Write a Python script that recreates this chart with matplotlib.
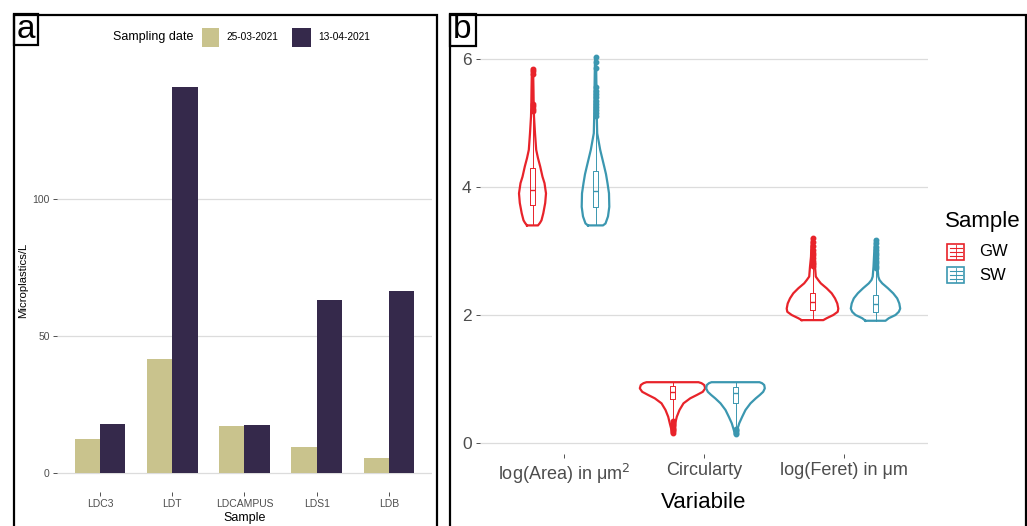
import matplotlib
matplotlib.use("Agg")
import matplotlib.pyplot as plt
from matplotlib.patches import Rectangle
from matplotlib.lines import Line2D
import numpy as np

plt.rcParams['font.family'] = ['Liberation Sans', 'DejaVu Sans']

# ---------------- Panel a data ----------------
samples = ["LDC3", "LDT", "LDCAMPUS", "LDS1", "LDB"]
dates = ["25-03-2021", "13-04-2021"]
mp_0325 = [12.2, 41.6, 17.2, 9.5, 5.3]
mp_0413 = [17.7, 141.0, 17.4, 63.1, 66.5]
a_yticks = [0, 50, 100]

# ---------------- Panel b data ----------------
variables = ["log(Area) in μm$^2$", "Circularty", "log(Feret) in μm"]
groups = ["GW", "SW"]
b_yticks = [0, 2, 4, 6]

# violin outlines: y values and half widths (relative)
gw_area_y = [3.40, 3.44, 3.48, 3.59, 3.75, 3.90, 4.06, 4.16, 4.32, 4.45, 4.58, 4.84, 5.10, 5.26, 5.50, 5.85]
gw_area_w = [5.5, 7.5, 9, 10.8, 12.7, 13.5, 12, 10, 7.7, 5.5, 3.7, 2.5, 1.5, 1.2, 1.0, 0.6]
sw_area_y = [3.40, 3.43, 3.54, 3.69, 3.90, 4.06, 4.20, 4.32, 4.45, 4.58, 4.84, 5.10, 5.50, 6.03]
sw_area_w = [7.5, 10, 12.5, 13.8, 13.5, 12, 10.5, 8.7, 6.7, 4.7, 1.7, 1.3, 1.0, 0.5]
gw_circ_y = [0.16, 0.203, 0.307, 0.41, 0.516, 0.62, 0.698, 0.75, 0.80, 0.854, 0.906, 0.935, 0.95]
gw_circ_w = [0.6, 1, 2.7, 4.3, 7, 11, 17.7, 24.3, 30.3, 32.7, 31.7, 29, 26]
sw_circ_y = [0.14, 0.203, 0.307, 0.41, 0.516, 0.62, 0.698, 0.75, 0.80, 0.854, 0.906, 0.935, 0.95]
sw_circ_w = [0.5, 1.7, 3.7, 6.7, 10, 15, 20.3, 24.3, 27.7, 29.3, 28.7, 26.5, 24]
gw_feret_y = [1.92, 1.95, 2.0, 2.05, 2.10, 2.18, 2.26, 2.339, 2.417, 2.495, 2.547, 2.60, 2.755, 2.91, 3.05, 3.20]
gw_feret_w = [10.8, 14.2, 20.8, 25.2, 25.8, 24.8, 22.5, 19.2, 14.2, 8.3, 5.7, 3.3, 2.5, 1.5, 1.2, 0.6]
sw_feret_y = [1.91, 1.95, 2.0, 2.05, 2.10, 2.18, 2.26, 2.339, 2.417, 2.495, 2.547, 2.60, 2.755, 2.91, 3.05, 3.18]
sw_feret_w = [10, 13.3, 20, 23.3, 24.7, 23.8, 21.7, 17.7, 12.5, 6.7, 4.0, 2.8, 2.0, 1.5, 1.0, 0.5]

# box stats: q1, median, q3, lower whisker, upper whisker
gw_area_box = [3.72, 3.96, 4.29, 3.40, 5.13]
sw_area_box = [3.68, 3.93, 4.25, 3.40, 5.08]
gw_circ_box = [0.68, 0.80, 0.89, 0.36, 0.95]
sw_circ_box = [0.62, 0.78, 0.87, 0.25, 0.95]
gw_feret_box = [2.08, 2.21, 2.35, 1.92, 2.74]
sw_feret_box = [2.05, 2.17, 2.32, 1.91, 2.70]

gw_area_out = [5.85, 5.81, 5.77, 5.30, 5.26, 5.22, 5.18]
sw_area_out = [6.03, 5.95, 5.86, 5.56, 5.50, 5.45, 5.40, 5.35, 5.30, 5.25, 5.20, 5.15, 5.11]
gw_circ_out = [0.16, 0.18, 0.20, 0.22, 0.24, 0.26, 0.28, 0.30, 0.32, 0.34]
sw_circ_out = [0.14, 0.16, 0.18, 0.20, 0.22]
gw_feret_out = [3.20, 3.14, 3.08, 3.02, 2.97, 2.93, 2.89, 2.85, 2.82, 2.79, 2.76]
sw_feret_out = [3.17, 3.12, 3.07, 3.02, 2.97, 2.93, 2.89, 2.85, 2.81, 2.77, 2.73]

# ---------------- styling ----------------
W, H = 1027, 526
TAN = "#c9c38d"
DARK = "#35294b"
RED = "#e8232a"
BLUE = "#3b97b0"
GRID = "#dcdcdc"
TICKC = "#4d4d4d"

fig = plt.figure(figsize=(W / 100, H / 100), dpi=100)


def fx(px):
    return px / W


def fy(py):
    return 1 - py / H


def axes_px(l, t, r, b):
    return fig.add_axes([fx(l), fy(b), (r - l) / W, (b - t) / H])


# ---------------- Panel a ----------------
axa = axes_px(56.6, 68, 432.4, 492)
x = np.arange(len(samples))
bw = 0.35
axa.bar(x - bw / 2, mp_0325, bw, color=TAN, edgecolor="none", zorder=3)
axa.bar(x + bw / 2, mp_0413, bw, color=DARK, edgecolor="none", zorder=3)
ymax = max(max(mp_0325), max(mp_0413))
axa.set_ylim(-0.05 * ymax, 1.05 * ymax)
axa.set_xlim(-0.6, len(samples) - 0.4)
axa.set_xticks(x)
axa.set_xticklabels(samples)
axa.set_yticks(a_yticks)
for s in axa.spines.values():
    s.set_visible(False)
axa.grid(axis="y", color=GRID, lw=0.9, zorder=0)
axa.set_axisbelow(True)
axa.tick_params(axis="both", length=3, width=0.6, color="#333333",
                labelcolor=TICKC, labelsize=7.5, pad=2)
axa.set_xlabel("Sample", fontsize=9, labelpad=2)
axa.set_ylabel("Microplastics/L", fontsize=8.2, labelpad=3)

# Panel a legend (top)
fig.text(fx(113), fy(37), "Sampling date", fontsize=9, va="center", ha="left")
fig.add_artist(Rectangle((fx(201.5), fy(46.5)), 17.5 / W, 18.5 / H, transform=fig.transFigure,
                         facecolor=TAN, edgecolor="none"))
fig.text(fx(226.5), fy(37), dates[0], fontsize=7.3, va="center", ha="left")
fig.add_artist(Rectangle((fx(292), fy(46.5)), 18.5 / W, 18.5 / H, transform=fig.transFigure,
                         facecolor=DARK, edgecolor="none"))
fig.text(fx(318), fy(37), dates[1], fontsize=7.3, va="center", ha="left")

# ---------------- Panel b ----------------
ylo, yhi = -0.17, 6.35
axb = axes_px(480, 59 - (yhi - 6) * 64, 928, 443 - ylo * 64)
axb.set_xlim(-0.6, len(variables) - 0.4)
axb.set_ylim(ylo, yhi)
for s in axb.spines.values():
    s.set_visible(False)
axb.set_yticks(b_yticks)
axb.set_xticks(np.arange(len(variables)))
axb.set_xticklabels(variables)
axb.grid(axis="y", color=GRID, lw=0.9, zorder=0)
axb.set_axisbelow(True)
axb.tick_params(axis="both", length=3, width=0.6, color="#333333",
                labelcolor=TICKC, pad=3)
axb.tick_params(axis="x", labelsize=13)
axb.tick_params(axis="y", labelsize=12.5)
axb.set_xlabel("Variabile", fontsize=16, labelpad=4)

violins = [
    (0, 0, gw_area_y, gw_area_w, gw_area_box, gw_area_out),
    (0, 1, sw_area_y, sw_area_w, sw_area_box, sw_area_out),
    (1, 0, gw_circ_y, gw_circ_w, gw_circ_box, gw_circ_out),
    (1, 1, sw_circ_y, sw_circ_w, sw_circ_box, sw_circ_out),
    (2, 0, gw_feret_y, gw_feret_w, gw_feret_box, gw_feret_out),
    (2, 1, sw_feret_y, sw_feret_w, sw_feret_box, sw_feret_out),
]
colors = [RED, BLUE]
wscale = 1 / 140.0  # relative half-width to x units
for cat, g, vy, vw, box, out in violins:
    c = cat + (-0.225 if g == 0 else 0.225)
    col = colors[g]
    vy = np.asarray(vy)
    vw = np.asarray(vw) * wscale
    xs = np.concatenate([c - vw, (c + vw)[::-1], [c - vw[0]]])
    ys = np.concatenate([vy, vy[::-1], [vy[0]]])
    axb.plot(xs, ys, color=col, lw=1.6, solid_joinstyle="round", zorder=4)
    q1, med, q3, lo, hi = box
    st = dict(q1=q1, med=med, q3=q3, whislo=lo, whishi=hi, fliers=out)
    axb.bxp([st], positions=[c], widths=0.042, showcaps=False, showfliers=True,
            patch_artist=False, manage_ticks=False,
            boxprops=dict(color=col, lw=0.7),
            whiskerprops=dict(color=col, lw=0.7),
            medianprops=dict(color=col, lw=1.0),
            flierprops=dict(marker="o", markersize=3.2, markerfacecolor=col,
                            markeredgecolor=col, linestyle="none"),
            zorder=5)

# Panel b legend
fig.text(fx(945), fy(221), "Sample", fontsize=16, va="center", ha="left")
for i, (lab, col) in enumerate(zip(groups, colors)):
    cy = 251.5 + i * 23.5
    fig.add_artist(Rectangle((fx(947), fy(cy + 8)), 17 / W, 16 / H, transform=fig.transFigure,
                             facecolor="white", edgecolor=col, lw=1.2))
    for dy in (-4, 0, 4):
        fig.add_artist(Line2D([fx(949.5), fx(961.5)], [fy(cy + dy), fy(cy + dy)],
                              transform=fig.transFigure, color=col, lw=0.8))
    fig.add_artist(Line2D([fx(955.5), fx(955.5)], [fy(cy - 7), fy(cy + 7)],
                          transform=fig.transFigure, color=col, lw=0.6))
    fig.text(fx(979), fy(cy), lab, fontsize=12, va="center", ha="left")

# ---------------- Frames ----------------
def frame(l, t, r, b):
    fig.add_artist(Rectangle((fx(l), fy(b)), (r - l) / W, (b - t) / H, transform=fig.transFigure,
                             facecolor="none", edgecolor="black", lw=1.6, clip_on=False))

frame(13.5, 14.5, 436.5, 540)
frame(13.5, 14.5, 37.5, 44.5)
fig.text(fx(25.5), fy(30), "a", fontsize=24, ha="center", va="center")
frame(449.5, 14.5, 1025.5, 540)
frame(449.5, 14.5, 475.5, 46)
fig.text(fx(462.5), fy(30), "b", fontsize=24, ha="center", va="center")

fig.savefig("out.png", dpi=100)
